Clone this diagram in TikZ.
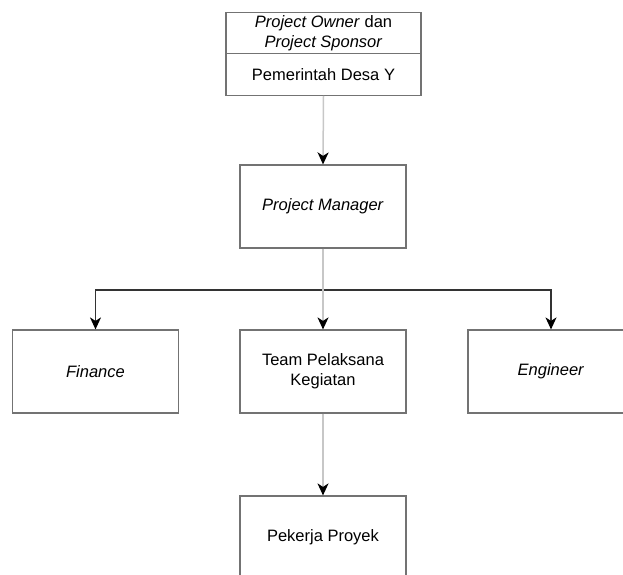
\documentclass[tikz,border=0pt]{standalone}
\usepackage{fontspec}
\setmainfont{Liberation Sans}
\usetikzlibrary{arrows.meta}
\newlength{\du}
\setlength{\du}{1pt}
\definecolor{boxline}{rgb}{0.450000, 0.450000, 0.450000}
\definecolor{linkline}{rgb}{0.780000, 0.780000, 0.780000}
\definecolor{busline}{rgb}{0.200000, 0.200000, 0.200000}
\tikzset{
  jabatan/.style={draw=boxline, line width=1.2\du, fill=white, inner sep=0pt,
    minimum width=166\du, minimum height=83\du, align=center,
    font=\fontsize{16.5}{20}\selectfont},
  pemilik/.style={jabatan, minimum width=195\du, minimum height=41.5\du},
  panah/.style={-{Stealth[length=12pt, width=11pt, inset=3.5pt, black]}},
  garis/.style={panah, draw=linkline, line width=1.5\du},
  cabang/.style={panah, draw=busline, line width=1.3\du}
}
\begin{document}
\begin{tikzpicture}
\pgftransformxscale{1.000000}
\pgftransformyscale{-1.000000}
\useasboundingbox (0\du,0\du) rectangle (623\du,574\du);
% boxes
\node[pemilik] (owner) at (323.500000\du,33.000000\du){\textit{Project Owner} dan\\\textit{Project Sponsor}};
\node[pemilik] (pemdes) at (323.500000\du,74.500000\du){Pemerintah Desa Y};
\node[jabatan] (pm) at (323.000000\du,206.500000\du){\textit{Project Manager}};
\node[jabatan] (finance) at (95.500000\du,371.500000\du){\textit{Finance}};
\node[jabatan] (tpk) at (323.000000\du,371.500000\du){Team Pelaksana\\Kegiatan};
\node[jabatan] (engineer) at (551.000000\du,371.500000\du){\textit{Engineer}};
\node[jabatan] (pekerja) at (323.000000\du,537.500000\du){Pekerja Proyek};
% connectors
\coordinate (bus) at (323.000000\du,290.000000\du);
\draw[cabang] (bus) -| (finance.north);
\draw[cabang] (bus) -| (engineer.north);
\draw[garis] (pemdes.south) -- (pm.north);
\draw[garis] (pm.south) -- (tpk.north);
\draw[garis] (tpk.south) -- (pekerja.north);
\end{tikzpicture}
\end{document}
